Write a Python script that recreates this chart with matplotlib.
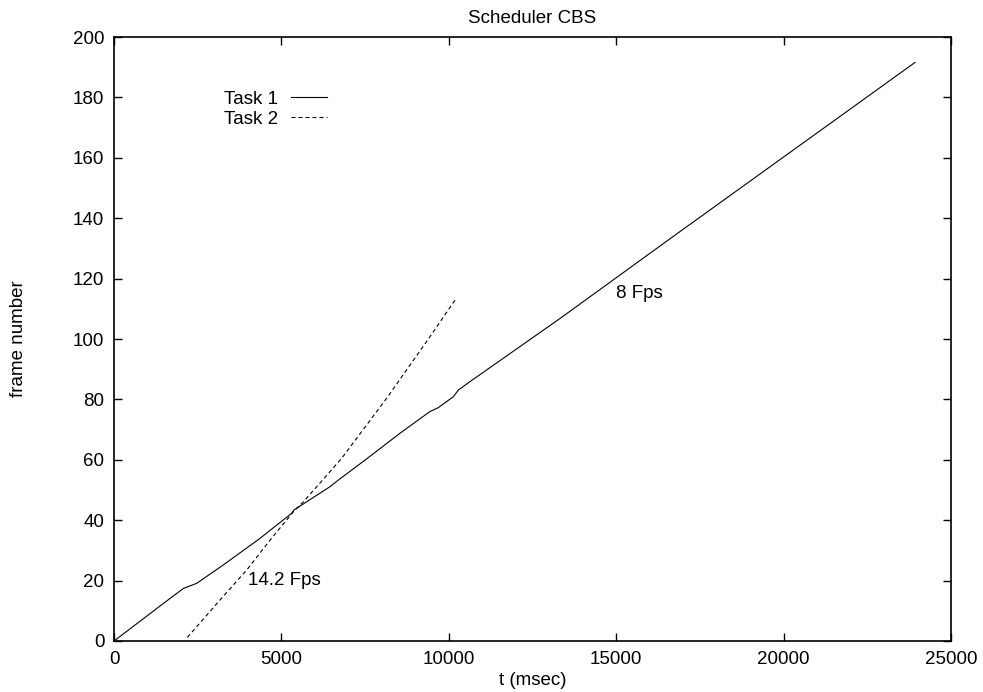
import matplotlib
matplotlib.use("Agg")
import matplotlib.pyplot as plt

plt.rcParams['font.family'] = ['Liberation Sans', 'DejaVu Sans']

# task 1 (solid)
t1_ms = [0, 1673, 2071, 2470, 3265, 4361, 5307, 5376, 6452, 6700, 7497,
         8542, 9438, 9539, 9688, 10135, 10285, 10633, 13321, 16556, 23925]
t1_frame = [0, 14.1, 17.4, 19.1, 25.2, 34.0, 42.3, 43.4, 51.1, 53.3, 59.9,
            68.8, 76.0, 76.5, 77.3, 80.9, 83.1, 85.9, 106.8, 132.8, 191.6]

# task 2 (dashed)
t2_ms = [2190, 3166, 3963, 4660, 5356, 5655, 6452, 6800, 8144, 9438, 10185]
t2_frame = [1.2, 13.6, 23.5, 33.4, 42.8, 46.1, 56.1, 60.5, 80.4, 100.8, 112.9]

fs = 13.5
fig = plt.figure(figsize=(9.83, 6.92), dpi=100)
ax = fig.add_axes([0.116, 0.0737, 0.8515, 0.8728])

ax.plot(t1_ms, t1_frame, color='black', lw=0.8, label='Task 1')
ax.plot(t2_ms, t2_frame, color='black', lw=0.8, dashes=(3.6, 2.7), label='Task 2')

ax.text(15000, 115, '8 Fps', fontsize=fs, va='center', ha='left')
ax.text(4000, 20, '14.2 Fps', fontsize=fs, va='center', ha='left')

ax.set_xlim(0, 25000)
ax.set_ylim(0, 200)
ax.set_xticks(range(0, 25001, 5000))
ax.set_yticks(range(0, 201, 20))
ax.tick_params(direction='in', length=6, width=1, top=True, right=True,
               labelsize=fs, pad=7)
for s in ax.spines.values():
    s.set_linewidth(1.2)

ax.set_title('Scheduler CBS', fontsize=fs, pad=10)
ax.set_xlabel('t (msec)', fontsize=fs, labelpad=3)
ax.set_ylabel('frame number', fontsize=fs, labelpad=33)

ax.legend(loc='upper left', bbox_to_anchor=(0.12, 0.927), frameon=False,
          markerfirst=False, fontsize=fs, handlelength=1.9, handletextpad=0.7,
          labelspacing=0.15, borderpad=0)

fig.savefig('out.png', dpi=100)
